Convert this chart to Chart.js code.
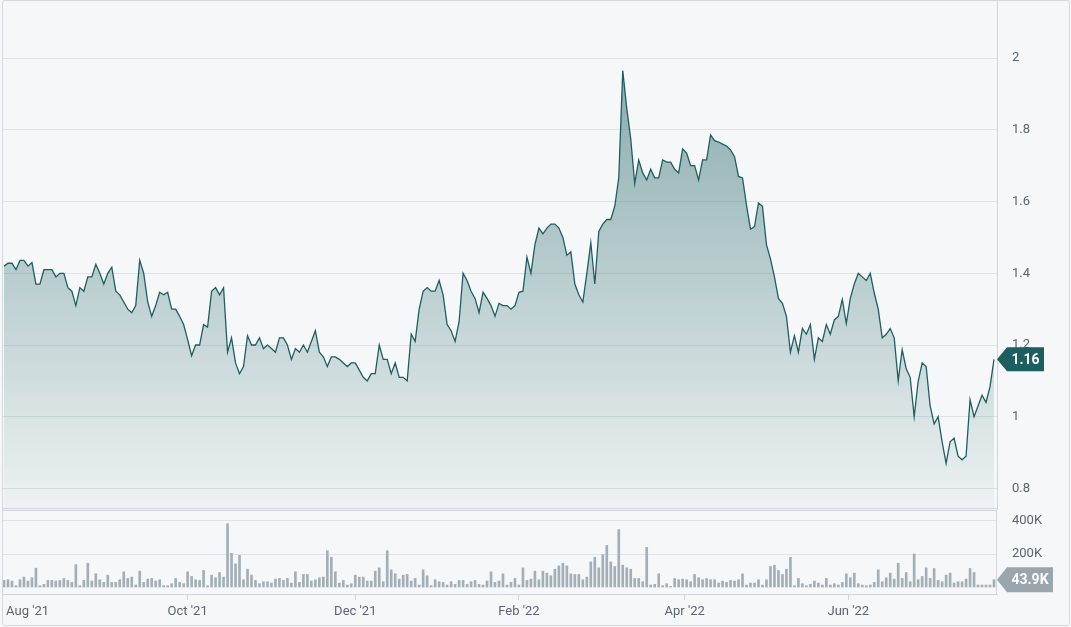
<!DOCTYPE html>
<html>
<head>
<meta charset="utf-8">
<script src="https://cdn.jsdelivr.net/npm/chart.js@4.4.0/dist/chart.umd.min.js"></script>
<style>
  html, body { margin: 0; padding: 0; background: #f5f7f9; }
  #wrap { position: relative; width: 1071px; height: 627px; overflow: hidden; }
  #frame { position: absolute; left: 2px; top: 0; width: 1066px; height: 624px; border: 1px solid #d3d8de; border-radius: 3px; }
  #priceChart { position: absolute; left: 0; top: 0; }
  #volChart { position: absolute; left: 0; top: 510px; }
</style>
</head>
<body>
<div id="wrap">
  <div id="frame"></div>
  <canvas id="priceChart" width="1071" height="510"></canvas>
  <canvas id="volChart" width="1071" height="117"></canvas>
</div>
<script>
// daily close, Jul '21 - Jul '22
const prices = [
  1.42,1.428,1.428,1.41,1.436,1.436,1.42,1.43,1.37,1.37,1.41,1.41,1.41,1.39,1.40,1.40,1.36,1.35,1.31,1.36,
  1.35,1.39,1.39,1.425,1.40,1.37,1.40,1.417,1.35,1.34,1.32,1.30,1.29,1.31,1.436,1.40,1.32,1.28,1.31,1.347,
  1.34,1.347,1.30,1.30,1.28,1.257,1.215,1.17,1.20,1.20,1.257,1.25,1.35,1.36,1.34,1.36,1.18,1.22,1.15,1.12,
  1.14,1.226,1.20,1.20,1.22,
  1.19,1.20,1.19,1.18,1.22,1.22,1.20,1.16,1.19,1.18,1.20,1.18,1.21,1.24,1.18,1.167,1.14,1.167,1.167,1.16,
  1.15,1.14,1.15,1.15,1.13,1.11,1.10,1.12,1.12,1.20,1.16,1.16,1.12,1.15,1.11,1.11,1.10,1.23,1.21,1.30,
  1.35,1.36,1.35,1.35,1.38,1.34,1.257,1.24,1.21,1.265,1.40,1.38,1.35,1.33,1.29,1.347,1.33,1.31,1.28,1.316,
  1.31,1.31,1.30,1.31,1.347,1.35,1.445,1.40,1.48,1.526,1.51,1.526,1.537,1.537,1.526,1.50,1.45,1.46,1.37,1.34,
  1.32,1.40,1.485,1.37,1.517,1.537,1.55,1.55,1.587,
  1.666,1.965,1.86,1.775,1.65,1.716,1.68,1.66,1.69,1.666,1.666,1.716,1.71,1.71,1.69,1.68,1.747,1.735,1.70,1.70,
  1.66,1.716,1.716,1.786,1.77,1.766,1.76,1.755,1.744,1.725,1.67,1.666,
  1.59,1.523,1.53,1.596,1.587,1.48,1.44,1.39,1.33,1.316,1.28,1.18,1.226,1.18,1.246,1.23,1.257,1.16,1.22,1.21,
  1.257,1.23,1.27,1.28,1.327,1.26,1.33,1.37,1.40,1.39,1.38,1.40,1.345,1.30,
  1.22,1.23,1.246,1.22,1.10,1.187,1.134,1.11,1.00,1.098,1.15,1.14,1.03,0.98,1.00,0.93,0.87,0.93,0.94,0.89,
  0.88,0.89,1.047,1.00,1.03,1.06,1.04,1.084,1.16
];

// daily volume, thousands
const volumes = [
  40,44,36,8,44,60,36,56,114,8,16,40,40,36,40,52,40,28,136,8,
  40,144,36,80,44,28,72,28,28,44,92,52,60,12,96,28,48,52,36,44,
  8,8,20,52,28,20,92,64,44,40,100,8,72,56,88,60,384,204,140,192,
  44,108,72,40,20,32,32,24,48,52,40,52,24,92,28,76,76,36,44,56,
  60,220,180,92,24,40,12,20,72,
  60,60,36,36,96,116,32,220,104,80,48,72,76,36,52,12,104,68,8,44,
  32,28,12,32,16,40,40,16,32,40,16,12,36,92,28,36,80,12,28,52,
  12,116,40,48,96,44,96,84,68,108,128,144,128,80,76,76,44,60,152,180,
  116,196,252,152,124,348,132,116,108,52,52,32,240,12,16,80,8,20,4,52,
  44,48,44,32,76,56,44,
  52,44,44,24,36,28,40,36,44,80,12,24,24,44,12,44,124,132,100,76,
  108,180,8,52,20,8,16,36,24,12,52,12,20,12,28,80,56,84,20,12,
  8,12,28,104,32,56,84,48,144,52,88,32,200,44,64,116,52,112,40,32,
  72,84,24,32,32,48,112,88,12,12,12,12,43.9
];

const monthPos = [5.9, 46, 88, 129, 170.5, 211.5];
const monthLabels = ["Aug '21", "Oct '21", "Dec '21", "Feb '22", "Apr '22", "Jun '22"];
const priceTicks = [0.8, 1, 1.2, 1.4, 1.6, 1.8, 2];
const volTicks = [200, 400];

const lineColor = '#1d5f60';
const frameColor = '#cfd5db';
const gridColor = '#dfe3e8';
const labelColor = '#5b6570';

Chart.defaults.font.family = "Roboto, 'Noto Sans', sans-serif";
Chart.defaults.font.size = 13;
Chart.defaults.color = labelColor;

const xMin = -0.25;
const xMax = prices.length - 1 + 0.75;

function drawTag(ctx, x, y, w, h, color, text) {
  ctx.save();
  ctx.fillStyle = color;
  ctx.beginPath();
  ctx.moveTo(x, y);
  ctx.lineTo(x + 10, y - h / 2);
  ctx.lineTo(x + w, y - h / 2);
  ctx.lineTo(x + w, y + h / 2);
  ctx.lineTo(x + 10, y + h / 2);
  ctx.closePath();
  ctx.fill();
  ctx.fillStyle = '#fff';
  ctx.font = "bold 14px Roboto, 'Noto Sans', sans-serif";
  ctx.textAlign = 'center';
  ctx.textBaseline = 'middle';
  ctx.fillText(text, x + 10 + (w - 10) / 2, y + 1);
  ctx.restore();
}

const priceFrame = {
  id: 'priceFrame',
  afterDraw(chart) {
    const { ctx, chartArea: a } = chart;
    ctx.save();
    ctx.strokeStyle = frameColor;
    ctx.lineWidth = 1;
    ctx.beginPath();
    ctx.moveTo(a.right + 0.5, 0);
    ctx.lineTo(a.right + 0.5, a.bottom);
    ctx.moveTo(a.left, a.bottom - 1.5);
    ctx.lineTo(a.right, a.bottom - 1.5);
    ctx.stroke();
    ctx.restore();
    const last = prices[prices.length - 1];
    const y = chart.scales.y.getPixelForValue(last);
    drawTag(ctx, a.right, y, 47, 24, lineColor, last.toFixed(2));
  }
};

const volFrame = {
  id: 'volFrame',
  afterDraw(chart) {
    const { ctx, chartArea: a } = chart;
    ctx.save();
    ctx.strokeStyle = frameColor;
    ctx.lineWidth = 1;
    ctx.beginPath();
    ctx.moveTo(a.left, a.top - 0.5);
    ctx.lineTo(a.right, a.top - 0.5);
    ctx.moveTo(a.right - 0.5, a.top);
    ctx.lineTo(a.right - 0.5, a.bottom);
    ctx.stroke();
    ctx.restore();
    const last = volumes[volumes.length - 1];
    const y = chart.scales.y.getPixelForValue(last);
    drawTag(ctx, a.right, y, 56, 25, '#9aa5ae', last.toFixed(1) + 'K');
  }
};

const priceCtx = document.getElementById('priceChart').getContext('2d');
const priceChart = new Chart(priceCtx, {
  type: 'line',
  data: {
    datasets: [{
      data: prices.map((v, i) => ({ x: i, y: v })),
      borderColor: lineColor,
      borderWidth: 1.3,
      pointRadius: 0,
      tension: 0,
      fill: 'start',
      backgroundColor(context) {
        const a = context.chart.chartArea;
        if (!a) return 'rgba(29,95,96,0.3)';
        const g = context.chart.ctx.createLinearGradient(0, a.top, 0, a.bottom);
        g.addColorStop(0, 'rgba(29,95,96,0.56)');
        g.addColorStop(1, 'rgba(29,95,96,0.03)');
        return g;
      }
    }]
  },
  options: {
    responsive: false,
    animation: false,
    layout: { padding: { left: 3, top: 0, bottom: 0, right: 0 } },
    plugins: { legend: { display: false }, tooltip: { enabled: false } },
    scales: {
      x: { type: 'linear', min: xMin, max: xMax, display: false },
      y: {
        position: 'right',
        min: 0.740,
        max: 2.162,
        afterBuildTicks(scale) { scale.ticks = priceTicks.map(v => ({ value: v })); },
        afterFit(scale) { scale.width = 74; scale.paddingTop = 0; scale.paddingBottom = 0; },
        grid: { color: gridColor, drawTicks: false },
        border: { display: false },
        ticks: {
          padding: 15,
          callback: v => String(Math.round(v * 10) / 10)
        }
      }
    }
  },
  plugins: [priceFrame]
});

const volCtx = document.getElementById('volChart').getContext('2d');
const volChart = new Chart(volCtx, {
  type: 'bar',
  data: {
    datasets: [{
      data: volumes.map((v, i) => ({ x: i, y: v })),
      backgroundColor: '#a3aeb6',
      barThickness: 2,
      borderWidth: 0
    }]
  },
  options: {
    responsive: false,
    animation: false,
    layout: { padding: { left: 3, top: 1, bottom: 0, right: 0 } },
    plugins: { legend: { display: false }, tooltip: { enabled: false } },
    scales: {
      x: {
        type: 'linear',
        min: xMin,
        max: xMax,
        offset: false,
        afterBuildTicks(scale) { scale.ticks = monthPos.map(v => ({ value: v })); },
        afterFit(scale) { scale.height = 33; scale.paddingLeft = 0; scale.paddingRight = 0; },
        grid: {
          offset: false,
          drawOnChartArea: false,
          tickLength: 6,
          tickColor: c => (c.index === 0 ? 'rgba(0,0,0,0)' : frameColor)
        },
        border: { color: frameColor },
        ticks: {
          padding: 4,
          maxRotation: 0,
          autoSkip: false,
          callback: (v, i) => monthLabels[i]
        }
      },
      y: {
        position: 'right',
        min: -42.4,
        max: 460.6,
        afterBuildTicks(scale) { scale.ticks = volTicks.map(v => ({ value: v })); },
        afterFit(scale) { scale.width = 74; scale.paddingTop = 0; scale.paddingBottom = 0; },
        grid: { color: gridColor, drawTicks: false },
        border: { display: false },
        ticks: {
          padding: 15,
          callback: v => v + 'K'
        }
      }
    }
  },
  plugins: [volFrame]
});
</script>
</body>
</html>
